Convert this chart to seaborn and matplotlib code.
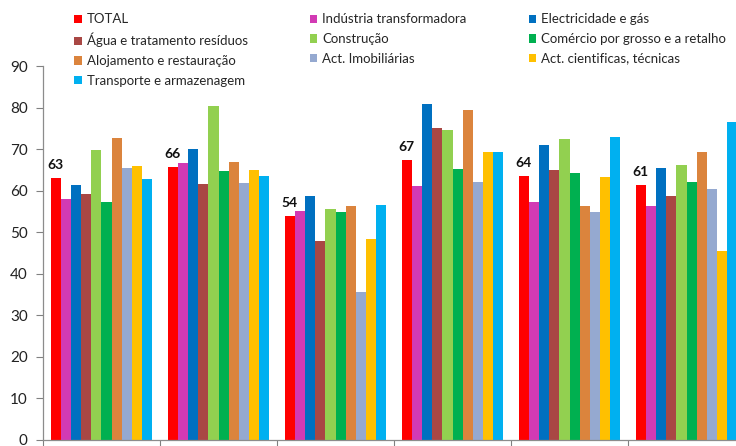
import matplotlib
matplotlib.use("Agg")
import matplotlib.pyplot as plt
import seaborn as sns
import pandas as pd

# Groups along the x axis
periods = ["P1", "P2", "P3", "P4", "P5", "P6"]

# Sectors (series), in drawing order
sectors = [
    "TOTAL",
    "Indústria transformadora",
    "Electricidade e gás",
    "Água e tratamento resíduos",
    "Construção",
    "Comércio por grosso e a retalho",
    "Alojamento e restauração",
    "Act. Imobiliárias",
    "Act. cientificas, técnicas",
    "Transporte e armazenagem",
]

total = [63.0, 65.6, 53.8, 67.3, 63.6, 61.3]
industria = [58.1, 66.6, 55.1, 61.1, 57.3, 56.2]
electricidade = [61.3, 70.0, 58.8, 80.8, 71.1, 65.5]
agua = [59.2, 61.5, 47.8, 75.0, 65.0, 58.6]
construcao = [69.7, 80.3, 55.6, 74.7, 72.5, 66.1]
comercio = [57.2, 64.8, 54.8, 65.2, 64.3, 62.0]
alojamento = [72.6, 67.0, 56.2, 79.3, 56.2, 69.3]
imobiliarias = [65.5, 61.9, 35.6, 62.2, 54.8, 60.3]
cientificas = [66.0, 65.0, 48.4, 69.3, 63.2, 45.4]
transporte = [62.9, 63.6, 56.5, 69.2, 72.9, 76.5]

total_labels = ["63", "66", "54", "67", "64", "61"]

palette = ["#FF0000", "#D23AB4", "#0070C0", "#A94744", "#92D050",
           "#00B050", "#DB843D", "#95A9D0", "#FFC000", "#00B0F0"]

series = [total, industria, electricidade, agua, construcao, comercio,
          alojamento, imobiliarias, cientificas, transporte]
rows = []
for name, vals in zip(sectors, series):
    for p, v in zip(periods, vals):
        rows.append({"period": p, "sector": name, "value": v})
df = pd.DataFrame(rows)

sns.set_style("white")
plt.rcParams["font.family"] = ["Lato", "DejaVu Sans"]

fig = plt.figure(figsize=(7.36, 4.46), dpi=100)
ax = fig.add_axes([0.0584, 0.0135, 0.954, 0.8385])

sns.barplot(data=df, x="period", y="value", hue="sector", order=periods,
            hue_order=sectors, palette=palette, width=0.87, saturation=1,
            linewidth=0, ax=ax, legend=True)

ax.set_ylim(0, 90)
ax.set_xlim(-0.5, len(periods) - 0.5)
ax.set_yticks(range(0, 91, 10))
ax.set_xticks([i - 0.5 for i in range(len(periods) + 1)])
ax.set_xticklabels([])
ax.set_xlabel("")
ax.set_ylabel("")
ax.tick_params(axis="y", labelsize=11, length=5, width=0.8, color="#808080",
               left=True, pad=6, labelcolor="#222222")
ax.tick_params(axis="x", length=5, width=0.8, color="#808080", bottom=True)
for side in ("top", "right"):
    ax.spines[side].set_visible(False)
for side in ("left", "bottom"):
    ax.spines[side].set_color("#8c8c8c")
    ax.spines[side].set_linewidth(0.9)

# Value labels above the TOTAL bars
total_bars = ax.containers[0]
for bar, lab, v in zip(total_bars, total_labels, total):
    ax.annotate(lab, (bar.get_x() + bar.get_width() / 2, v),
                xytext=(0, 5), textcoords="offset points",
                ha="center", va="bottom", fontsize=10, fontweight="bold",
                color="#111111")

# Legend laid out row by row in three columns
handles, labels = ax.get_legend_handles_labels()
ax.get_legend().remove()
order = [0, 3, 6, 9, 1, 4, 7, 2, 5, 8]
fig.legend([handles[i] for i in order], [labels[i] for i in order],
           loc="upper left", bbox_to_anchor=(0.097, 0.976), ncol=3,
           frameon=False, fontsize=9.5, handlelength=0.6, handleheight=0.6,
           handletextpad=0.35, columnspacing=4.7, labelspacing=0.58,
           borderaxespad=0, borderpad=0.2)

fig.savefig("out.png", dpi=100)
